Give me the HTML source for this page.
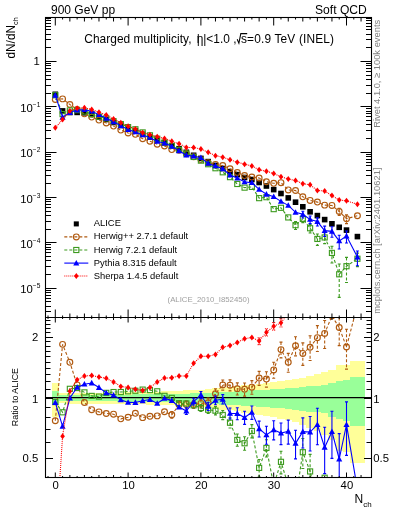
<!DOCTYPE html>
<html><head><meta charset="utf-8"><style>
html,body{margin:0;padding:0;background:#fff;width:393px;height:512px;overflow:hidden;position:relative}
svg text{font-family:"Liberation Sans",sans-serif}
svg{will-change:transform}
</style></head><body>
<svg width="393" height="512" viewBox="0 0 393 512" style="position:absolute;left:0;top:0">
<defs><clipPath id="ct"><rect x="45.5" y="17.5" width="326.0" height="300.0"/></clipPath>
<clipPath id="cr"><rect x="45.5" y="317.5" width="326.0" height="160.0"/></clipPath></defs>
<g clip-path="url(#cr)" shape-rendering="crispEdges"><g fill="#ffff99"><rect x="51.66" y="382.69" width="7.28" height="33.85"/><rect x="58.94" y="392.87" width="7.28" height="10.57"/><rect x="66.22" y="392.83" width="7.28" height="10.67"/><rect x="73.50" y="392.78" width="7.28" height="10.77"/><rect x="80.78" y="392.73" width="7.28" height="10.87"/><rect x="88.06" y="392.69" width="7.28" height="10.96"/><rect x="95.34" y="392.64" width="7.28" height="11.06"/><rect x="102.62" y="392.60" width="7.28" height="11.16"/><rect x="109.90" y="392.55" width="7.28" height="11.26"/><rect x="117.18" y="392.50" width="7.28" height="11.36"/><rect x="124.46" y="392.46" width="7.28" height="11.45"/><rect x="131.74" y="392.25" width="7.28" height="11.90"/><rect x="139.02" y="392.05" width="7.28" height="12.34"/><rect x="146.30" y="391.84" width="7.28" height="12.78"/><rect x="153.58" y="391.64" width="7.28" height="13.22"/><rect x="160.86" y="391.43" width="7.28" height="13.67"/><rect x="168.14" y="391.23" width="7.28" height="14.11"/><rect x="175.42" y="390.82" width="7.28" height="14.99"/><rect x="182.70" y="390.42" width="7.28" height="15.88"/><rect x="189.98" y="390.01" width="7.28" height="16.77"/><rect x="197.26" y="389.61" width="7.28" height="17.66"/><rect x="204.54" y="389.02" width="7.28" height="18.99"/><rect x="211.82" y="388.42" width="7.28" height="20.33"/><rect x="219.10" y="387.83" width="7.28" height="21.67"/><rect x="226.38" y="387.25" width="7.28" height="23.01"/><rect x="233.66" y="386.36" width="7.28" height="25.06"/><rect x="240.94" y="385.48" width="7.28" height="27.11"/><rect x="248.22" y="384.62" width="7.28" height="29.17"/><rect x="255.50" y="383.76" width="7.28" height="31.25"/><rect x="262.78" y="382.91" width="7.28" height="33.33"/><rect x="270.06" y="382.06" width="7.28" height="35.41"/><rect x="277.34" y="381.23" width="7.28" height="37.51"/><rect x="284.62" y="380.12" width="7.28" height="40.36"/><rect x="291.90" y="379.02" width="7.28" height="43.22"/><rect x="299.18" y="377.62" width="7.28" height="46.94"/><rect x="306.46" y="375.80" width="7.28" height="51.98"/><rect x="313.74" y="374.00" width="7.28" height="57.10"/><rect x="321.02" y="372.25" width="7.28" height="62.31"/><rect x="328.30" y="369.92" width="7.28" height="69.58"/><rect x="335.58" y="365.31" width="7.28" height="85.30"/><rect x="342.86" y="364.70" width="7.28" height="87.51"/><rect x="350.14" y="361.16" width="14.56" height="101.42"/></g><g fill="#99ff99"><rect x="51.66" y="391.23" width="7.28" height="14.11"/><rect x="58.94" y="394.97" width="7.28" height="6.16"/><rect x="66.22" y="394.93" width="7.28" height="6.26"/><rect x="73.50" y="394.88" width="7.28" height="6.36"/><rect x="80.78" y="394.83" width="7.28" height="6.46"/><rect x="88.06" y="394.78" width="7.28" height="6.55"/><rect x="95.34" y="394.74" width="7.28" height="6.65"/><rect x="102.62" y="394.69" width="7.28" height="6.75"/><rect x="109.90" y="394.64" width="7.28" height="6.85"/><rect x="117.18" y="394.60" width="7.28" height="6.94"/><rect x="124.46" y="394.55" width="7.28" height="7.04"/><rect x="131.74" y="394.48" width="7.28" height="7.19"/><rect x="139.02" y="394.41" width="7.28" height="7.34"/><rect x="146.30" y="394.34" width="7.28" height="7.48"/><rect x="153.58" y="394.27" width="7.28" height="7.63"/><rect x="160.86" y="394.20" width="7.28" height="7.78"/><rect x="168.14" y="394.13" width="7.28" height="7.92"/><rect x="175.42" y="393.81" width="7.28" height="8.59"/><rect x="182.70" y="393.50" width="7.28" height="9.25"/><rect x="189.98" y="393.18" width="7.28" height="9.91"/><rect x="197.26" y="392.87" width="7.28" height="10.57"/><rect x="204.54" y="392.56" width="7.28" height="11.23"/><rect x="211.82" y="392.25" width="7.28" height="11.90"/><rect x="219.10" y="391.94" width="7.28" height="12.56"/><rect x="226.38" y="391.64" width="7.28" height="13.22"/><rect x="233.66" y="391.23" width="7.28" height="14.11"/><rect x="240.94" y="390.82" width="7.28" height="14.99"/><rect x="248.22" y="390.42" width="7.28" height="15.88"/><rect x="255.50" y="390.01" width="7.28" height="16.77"/><rect x="262.78" y="389.61" width="7.28" height="17.66"/><rect x="270.06" y="389.21" width="7.28" height="18.55"/><rect x="277.34" y="388.82" width="7.28" height="19.44"/><rect x="284.62" y="388.21" width="7.28" height="20.81"/><rect x="291.90" y="387.61" width="7.28" height="22.18"/><rect x="299.18" y="386.97" width="7.28" height="23.64"/><rect x="306.46" y="386.29" width="7.28" height="25.22"/><rect x="313.74" y="385.61" width="7.28" height="26.81"/><rect x="321.02" y="384.94" width="7.28" height="28.40"/><rect x="328.30" y="382.69" width="7.28" height="33.85"/><rect x="335.58" y="381.23" width="7.28" height="37.51"/><rect x="342.86" y="379.61" width="7.28" height="41.68"/><rect x="350.14" y="376.97" width="14.56" height="48.72"/></g></g>
<line x1="45.5" y1="397.6" x2="371.5" y2="397.6" stroke="#000" stroke-width="1.1"/>
<g clip-path="url(#ct)"><rect x="52.50" y="91.50" width="5.60" height="5.60" fill="#000"/><rect x="59.78" y="108.10" width="5.60" height="5.60" fill="#000"/><rect x="67.06" y="109.70" width="5.60" height="5.60" fill="#000"/><rect x="74.34" y="109.60" width="5.60" height="5.60" fill="#000"/><rect x="81.62" y="110.00" width="5.60" height="5.60" fill="#000"/><rect x="88.90" y="111.70" width="5.60" height="5.60" fill="#000"/><rect x="96.18" y="114.20" width="5.60" height="5.60" fill="#000"/><rect x="103.46" y="116.70" width="5.60" height="5.60" fill="#000"/><rect x="110.74" y="119.70" width="5.60" height="5.60" fill="#000"/><rect x="118.02" y="122.60" width="5.60" height="5.60" fill="#000"/><rect x="125.30" y="125.80" width="5.60" height="5.60" fill="#000"/><rect x="132.58" y="128.10" width="5.60" height="5.60" fill="#000"/><rect x="139.86" y="131.50" width="5.60" height="5.60" fill="#000"/><rect x="147.14" y="134.30" width="5.60" height="5.60" fill="#000"/><rect x="154.42" y="137.40" width="5.60" height="5.60" fill="#000"/><rect x="161.70" y="140.10" width="5.60" height="5.60" fill="#000"/><rect x="168.98" y="143.00" width="5.60" height="5.60" fill="#000"/><rect x="176.26" y="145.90" width="5.60" height="5.60" fill="#000"/><rect x="183.54" y="149.50" width="5.60" height="5.60" fill="#000"/><rect x="190.82" y="152.50" width="5.60" height="5.60" fill="#000"/><rect x="198.10" y="155.60" width="5.60" height="5.60" fill="#000"/><rect x="205.38" y="158.80" width="5.60" height="5.60" fill="#000"/><rect x="212.66" y="162.60" width="5.60" height="5.60" fill="#000"/><rect x="219.94" y="165.70" width="5.60" height="5.60" fill="#000"/><rect x="227.22" y="168.80" width="5.60" height="5.60" fill="#000"/><rect x="234.50" y="171.80" width="5.60" height="5.60" fill="#000"/><rect x="241.78" y="174.70" width="5.60" height="5.60" fill="#000"/><rect x="249.06" y="176.70" width="5.60" height="5.60" fill="#000"/><rect x="256.34" y="179.70" width="5.60" height="5.60" fill="#000"/><rect x="263.62" y="183.20" width="5.60" height="5.60" fill="#000"/><rect x="270.90" y="186.80" width="5.60" height="5.60" fill="#000"/><rect x="278.18" y="190.70" width="5.60" height="5.60" fill="#000"/><rect x="285.46" y="195.10" width="5.60" height="5.60" fill="#000"/><rect x="292.74" y="199.40" width="5.60" height="5.60" fill="#000"/><rect x="300.02" y="204.00" width="5.60" height="5.60" fill="#000"/><rect x="307.30" y="209.00" width="5.60" height="5.60" fill="#000"/><rect x="314.58" y="212.80" width="5.60" height="5.60" fill="#000"/><rect x="321.86" y="216.80" width="5.60" height="5.60" fill="#000"/><rect x="329.14" y="221.00" width="5.60" height="5.60" fill="#000"/><rect x="336.42" y="224.50" width="5.60" height="5.60" fill="#000"/><rect x="343.70" y="227.30" width="5.60" height="5.60" fill="#000"/><rect x="354.62" y="233.80" width="5.60" height="5.60" fill="#000"/><path d="M55.30 99.40 L62.58 98.89 L69.86 104.51 L77.14 109.48 L84.42 113.81 L91.70 117.11 L98.98 120.11 L106.26 122.96 L113.54 126.12 L120.82 130.07 L128.10 132.92 L135.38 134.33 L142.66 138.69 L149.94 141.20 L157.22 144.20 L164.50 145.99 L171.78 149.56 L179.06 150.21 L186.34 153.73 L193.62 156.73 L200.90 159.62 L208.18 162.65 L215.46 164.44 L222.74 165.58 L230.02 168.73 L237.30 172.53 L244.58 175.55 L251.86 177.08 L259.14 178.04 L266.42 181.76 L273.70 183.31 L280.98 182.67 L288.26 189.91 L295.54 190.51 L302.82 196.82 L310.10 200.44 L317.38 202.09 L324.66 205.14 L331.94 205.44 L339.22 211.53 L346.50 218.68 L357.42 215.77" fill="none" stroke="#b05a10" stroke-width="1.1" stroke-dasharray="3,2"/><path d="M339.22 208.18V215.57M337.72 208.18H340.72M337.72 215.57H340.72M346.50 214.72V223.63M345.00 214.72H348.00M345.00 223.63H348.00" fill="none" stroke="#b05a10" stroke-width="1.1" stroke-dasharray="3,2"/><circle cx="55.30" cy="99.40" r="2.90" fill="none" stroke="#b05a10" stroke-width="1.15"/><circle cx="62.58" cy="98.89" r="2.90" fill="none" stroke="#b05a10" stroke-width="1.15"/><circle cx="69.86" cy="104.51" r="2.90" fill="none" stroke="#b05a10" stroke-width="1.15"/><circle cx="77.14" cy="109.48" r="2.90" fill="none" stroke="#b05a10" stroke-width="1.15"/><circle cx="84.42" cy="113.81" r="2.90" fill="none" stroke="#b05a10" stroke-width="1.15"/><circle cx="91.70" cy="117.11" r="2.90" fill="none" stroke="#b05a10" stroke-width="1.15"/><circle cx="98.98" cy="120.11" r="2.90" fill="none" stroke="#b05a10" stroke-width="1.15"/><circle cx="106.26" cy="122.96" r="2.90" fill="none" stroke="#b05a10" stroke-width="1.15"/><circle cx="113.54" cy="126.12" r="2.90" fill="none" stroke="#b05a10" stroke-width="1.15"/><circle cx="120.82" cy="130.07" r="2.90" fill="none" stroke="#b05a10" stroke-width="1.15"/><circle cx="128.10" cy="132.92" r="2.90" fill="none" stroke="#b05a10" stroke-width="1.15"/><circle cx="135.38" cy="134.33" r="2.90" fill="none" stroke="#b05a10" stroke-width="1.15"/><circle cx="142.66" cy="138.69" r="2.90" fill="none" stroke="#b05a10" stroke-width="1.15"/><circle cx="149.94" cy="141.20" r="2.90" fill="none" stroke="#b05a10" stroke-width="1.15"/><circle cx="157.22" cy="144.20" r="2.90" fill="none" stroke="#b05a10" stroke-width="1.15"/><circle cx="164.50" cy="145.99" r="2.90" fill="none" stroke="#b05a10" stroke-width="1.15"/><circle cx="171.78" cy="149.56" r="2.90" fill="none" stroke="#b05a10" stroke-width="1.15"/><circle cx="179.06" cy="150.21" r="2.90" fill="none" stroke="#b05a10" stroke-width="1.15"/><circle cx="186.34" cy="153.73" r="2.90" fill="none" stroke="#b05a10" stroke-width="1.15"/><circle cx="193.62" cy="156.73" r="2.90" fill="none" stroke="#b05a10" stroke-width="1.15"/><circle cx="200.90" cy="159.62" r="2.90" fill="none" stroke="#b05a10" stroke-width="1.15"/><circle cx="208.18" cy="162.65" r="2.90" fill="none" stroke="#b05a10" stroke-width="1.15"/><circle cx="215.46" cy="164.44" r="2.90" fill="none" stroke="#b05a10" stroke-width="1.15"/><circle cx="222.74" cy="165.58" r="2.90" fill="none" stroke="#b05a10" stroke-width="1.15"/><circle cx="230.02" cy="168.73" r="2.90" fill="none" stroke="#b05a10" stroke-width="1.15"/><circle cx="237.30" cy="172.53" r="2.90" fill="none" stroke="#b05a10" stroke-width="1.15"/><circle cx="244.58" cy="175.55" r="2.90" fill="none" stroke="#b05a10" stroke-width="1.15"/><circle cx="251.86" cy="177.08" r="2.90" fill="none" stroke="#b05a10" stroke-width="1.15"/><circle cx="259.14" cy="178.04" r="2.90" fill="none" stroke="#b05a10" stroke-width="1.15"/><circle cx="266.42" cy="181.76" r="2.90" fill="none" stroke="#b05a10" stroke-width="1.15"/><circle cx="273.70" cy="183.31" r="2.90" fill="none" stroke="#b05a10" stroke-width="1.15"/><circle cx="280.98" cy="182.67" r="2.90" fill="none" stroke="#b05a10" stroke-width="1.15"/><circle cx="288.26" cy="189.91" r="2.90" fill="none" stroke="#b05a10" stroke-width="1.15"/><circle cx="295.54" cy="190.51" r="2.90" fill="none" stroke="#b05a10" stroke-width="1.15"/><circle cx="302.82" cy="196.82" r="2.90" fill="none" stroke="#b05a10" stroke-width="1.15"/><circle cx="310.10" cy="200.44" r="2.90" fill="none" stroke="#b05a10" stroke-width="1.15"/><circle cx="317.38" cy="202.09" r="2.90" fill="none" stroke="#b05a10" stroke-width="1.15"/><circle cx="324.66" cy="205.14" r="2.90" fill="none" stroke="#b05a10" stroke-width="1.15"/><circle cx="331.94" cy="205.44" r="2.90" fill="none" stroke="#b05a10" stroke-width="1.15"/><circle cx="339.22" cy="211.53" r="2.90" fill="none" stroke="#b05a10" stroke-width="1.15"/><circle cx="346.50" cy="218.68" r="2.90" fill="none" stroke="#b05a10" stroke-width="1.15"/><circle cx="357.42" cy="215.77" r="2.90" fill="none" stroke="#b05a10" stroke-width="1.15"/><path d="M55.30 95.21 L62.58 114.10 L69.86 110.44 L77.14 110.17 L84.42 111.54 L91.70 114.03 L98.98 116.69 L106.26 118.35 L113.54 121.17 L120.82 124.07 L128.10 127.10 L135.38 129.28 L142.66 132.42 L149.94 135.33 L157.22 138.70 L164.50 142.41 L171.78 145.78 L179.06 149.86 L186.34 153.52 L193.62 156.94 L200.90 160.63 L208.18 164.23 L215.46 168.23 L222.74 172.29 L230.02 177.14 L237.30 183.98 L244.58 187.63 L251.86 186.89 L259.14 198.14 L266.42 197.18 L273.70 209.13 L280.98 207.79 L288.26 217.43 L295.54 225.20 L302.82 218.94 L310.10 228.24 L317.38 238.92 L324.66 237.45 L331.94 252.92 L339.22 274.29 L346.50 266.19 L357.42 258.74" fill="none" stroke="#3c9a1e" stroke-width="1.1" stroke-dasharray="3,2"/><path d="M295.54 221.64V229.56M294.04 221.64H297.04M294.04 229.56H297.04M302.82 215.86V222.59M301.32 215.86H304.32M301.32 222.59H304.32M310.10 224.42V232.99M308.60 224.42H311.60M308.60 232.99H311.60M317.38 234.05V245.42M315.88 234.05H318.88M315.88 245.42H318.88M324.66 232.73V243.67M323.16 232.73H326.16M323.16 243.67H326.16M331.94 246.28V263.00M330.44 246.28H333.44M330.44 263.00H333.44M339.22 263.96V297.33M337.72 263.96H340.72M337.72 297.33H340.72M346.50 257.42V282.43M345.00 257.42H348.00M345.00 282.43H348.00M357.42 253.14V266.58M355.92 253.14H358.92M355.92 266.58H358.92" fill="none" stroke="#3c9a1e" stroke-width="1.1" stroke-dasharray="3,2"/><rect x="52.75" y="92.66" width="5.10" height="5.10" fill="none" stroke="#3c9a1e" stroke-width="1.1"/><rect x="60.03" y="111.55" width="5.10" height="5.10" fill="none" stroke="#3c9a1e" stroke-width="1.1"/><rect x="67.31" y="107.89" width="5.10" height="5.10" fill="none" stroke="#3c9a1e" stroke-width="1.1"/><rect x="74.59" y="107.62" width="5.10" height="5.10" fill="none" stroke="#3c9a1e" stroke-width="1.1"/><rect x="81.87" y="108.99" width="5.10" height="5.10" fill="none" stroke="#3c9a1e" stroke-width="1.1"/><rect x="89.15" y="111.48" width="5.10" height="5.10" fill="none" stroke="#3c9a1e" stroke-width="1.1"/><rect x="96.43" y="114.14" width="5.10" height="5.10" fill="none" stroke="#3c9a1e" stroke-width="1.1"/><rect x="103.71" y="115.80" width="5.10" height="5.10" fill="none" stroke="#3c9a1e" stroke-width="1.1"/><rect x="110.99" y="118.62" width="5.10" height="5.10" fill="none" stroke="#3c9a1e" stroke-width="1.1"/><rect x="118.27" y="121.52" width="5.10" height="5.10" fill="none" stroke="#3c9a1e" stroke-width="1.1"/><rect x="125.55" y="124.55" width="5.10" height="5.10" fill="none" stroke="#3c9a1e" stroke-width="1.1"/><rect x="132.83" y="126.73" width="5.10" height="5.10" fill="none" stroke="#3c9a1e" stroke-width="1.1"/><rect x="140.11" y="129.87" width="5.10" height="5.10" fill="none" stroke="#3c9a1e" stroke-width="1.1"/><rect x="147.39" y="132.78" width="5.10" height="5.10" fill="none" stroke="#3c9a1e" stroke-width="1.1"/><rect x="154.67" y="136.15" width="5.10" height="5.10" fill="none" stroke="#3c9a1e" stroke-width="1.1"/><rect x="161.95" y="139.86" width="5.10" height="5.10" fill="none" stroke="#3c9a1e" stroke-width="1.1"/><rect x="169.23" y="143.23" width="5.10" height="5.10" fill="none" stroke="#3c9a1e" stroke-width="1.1"/><rect x="176.51" y="147.31" width="5.10" height="5.10" fill="none" stroke="#3c9a1e" stroke-width="1.1"/><rect x="183.79" y="150.97" width="5.10" height="5.10" fill="none" stroke="#3c9a1e" stroke-width="1.1"/><rect x="191.07" y="154.39" width="5.10" height="5.10" fill="none" stroke="#3c9a1e" stroke-width="1.1"/><rect x="198.35" y="158.08" width="5.10" height="5.10" fill="none" stroke="#3c9a1e" stroke-width="1.1"/><rect x="205.63" y="161.68" width="5.10" height="5.10" fill="none" stroke="#3c9a1e" stroke-width="1.1"/><rect x="212.91" y="165.68" width="5.10" height="5.10" fill="none" stroke="#3c9a1e" stroke-width="1.1"/><rect x="220.19" y="169.74" width="5.10" height="5.10" fill="none" stroke="#3c9a1e" stroke-width="1.1"/><rect x="227.47" y="174.59" width="5.10" height="5.10" fill="none" stroke="#3c9a1e" stroke-width="1.1"/><rect x="234.75" y="181.43" width="5.10" height="5.10" fill="none" stroke="#3c9a1e" stroke-width="1.1"/><rect x="242.03" y="185.08" width="5.10" height="5.10" fill="none" stroke="#3c9a1e" stroke-width="1.1"/><rect x="249.31" y="184.34" width="5.10" height="5.10" fill="none" stroke="#3c9a1e" stroke-width="1.1"/><rect x="256.59" y="195.59" width="5.10" height="5.10" fill="none" stroke="#3c9a1e" stroke-width="1.1"/><rect x="263.87" y="194.63" width="5.10" height="5.10" fill="none" stroke="#3c9a1e" stroke-width="1.1"/><rect x="271.15" y="206.58" width="5.10" height="5.10" fill="none" stroke="#3c9a1e" stroke-width="1.1"/><rect x="278.43" y="205.24" width="5.10" height="5.10" fill="none" stroke="#3c9a1e" stroke-width="1.1"/><rect x="285.71" y="214.88" width="5.10" height="5.10" fill="none" stroke="#3c9a1e" stroke-width="1.1"/><rect x="292.99" y="222.65" width="5.10" height="5.10" fill="none" stroke="#3c9a1e" stroke-width="1.1"/><rect x="300.27" y="216.39" width="5.10" height="5.10" fill="none" stroke="#3c9a1e" stroke-width="1.1"/><rect x="307.55" y="225.69" width="5.10" height="5.10" fill="none" stroke="#3c9a1e" stroke-width="1.1"/><rect x="314.83" y="236.37" width="5.10" height="5.10" fill="none" stroke="#3c9a1e" stroke-width="1.1"/><rect x="322.11" y="234.90" width="5.10" height="5.10" fill="none" stroke="#3c9a1e" stroke-width="1.1"/><rect x="329.39" y="250.37" width="5.10" height="5.10" fill="none" stroke="#3c9a1e" stroke-width="1.1"/><rect x="336.67" y="271.74" width="5.10" height="5.10" fill="none" stroke="#3c9a1e" stroke-width="1.1"/><rect x="343.95" y="263.64" width="5.10" height="5.10" fill="none" stroke="#3c9a1e" stroke-width="1.1"/><rect x="354.87" y="256.19" width="5.10" height="5.10" fill="none" stroke="#3c9a1e" stroke-width="1.1"/><path d="M55.30 95.31 L62.58 117.23 L69.86 112.50 L77.14 110.03 L84.42 109.71 L91.70 111.16 L98.98 114.65 L106.26 118.35 L113.54 121.86 L120.82 125.80 L128.10 129.59 L135.38 131.91 L142.66 134.92 L149.94 137.44 L157.22 141.42 L164.50 143.00 L171.78 146.36 L179.06 150.73 L186.34 155.22 L193.62 156.10 L200.90 157.72 L208.18 163.46 L215.46 165.90 L222.74 168.78 L230.02 175.03 L237.30 178.08 L244.58 181.87 L251.86 182.72 L259.14 189.38 L266.42 194.24 L273.70 196.71 L280.98 201.36 L288.26 205.35 L295.54 212.36 L302.82 214.34 L310.10 219.42 L317.38 221.56 L324.66 230.67 L331.94 231.34 L339.22 240.95 L346.50 236.06 L357.42 257.05" fill="none" stroke="#0000ff" stroke-width="1.1"/><path d="M302.82 211.25V218.01M301.32 211.25H304.32M301.32 218.01H304.32M310.10 215.94V223.66M308.60 215.94H311.60M308.60 223.66H311.60M317.38 217.90V226.05M315.88 217.90H318.88M315.88 226.05H318.88M324.66 226.16V236.53M323.16 226.16H326.16M323.16 236.53H326.16M331.94 226.76V237.31M330.44 226.76H333.44M330.44 237.31H333.44M339.22 235.28V248.96M337.72 235.28H340.72M337.72 248.96H340.72M346.50 230.97V242.94M345.00 230.97H348.00M345.00 242.94H348.00M357.42 251.06V265.70M355.92 251.06H358.92M355.92 265.70H358.92" fill="none" stroke="#0000ff" stroke-width="1.1"/><path d="M55.30 92.11L58.34 97.71L52.26 97.71Z" fill="#0000ff"/><path d="M62.58 114.03L65.62 119.63L59.54 119.63Z" fill="#0000ff"/><path d="M69.86 109.30L72.90 114.90L66.82 114.90Z" fill="#0000ff"/><path d="M77.14 106.83L80.18 112.43L74.10 112.43Z" fill="#0000ff"/><path d="M84.42 106.51L87.46 112.11L81.38 112.11Z" fill="#0000ff"/><path d="M91.70 107.96L94.74 113.56L88.66 113.56Z" fill="#0000ff"/><path d="M98.98 111.45L102.02 117.05L95.94 117.05Z" fill="#0000ff"/><path d="M106.26 115.15L109.30 120.75L103.22 120.75Z" fill="#0000ff"/><path d="M113.54 118.66L116.58 124.26L110.50 124.26Z" fill="#0000ff"/><path d="M120.82 122.60L123.86 128.20L117.78 128.20Z" fill="#0000ff"/><path d="M128.10 126.39L131.14 131.99L125.06 131.99Z" fill="#0000ff"/><path d="M135.38 128.71L138.42 134.31L132.34 134.31Z" fill="#0000ff"/><path d="M142.66 131.72L145.70 137.32L139.62 137.32Z" fill="#0000ff"/><path d="M149.94 134.24L152.98 139.84L146.90 139.84Z" fill="#0000ff"/><path d="M157.22 138.22L160.26 143.82L154.18 143.82Z" fill="#0000ff"/><path d="M164.50 139.80L167.54 145.40L161.46 145.40Z" fill="#0000ff"/><path d="M171.78 143.16L174.82 148.76L168.74 148.76Z" fill="#0000ff"/><path d="M179.06 147.53L182.10 153.13L176.02 153.13Z" fill="#0000ff"/><path d="M186.34 152.02L189.38 157.62L183.30 157.62Z" fill="#0000ff"/><path d="M193.62 152.90L196.66 158.50L190.58 158.50Z" fill="#0000ff"/><path d="M200.90 154.52L203.94 160.12L197.86 160.12Z" fill="#0000ff"/><path d="M208.18 160.26L211.22 165.86L205.14 165.86Z" fill="#0000ff"/><path d="M215.46 162.70L218.50 168.30L212.42 168.30Z" fill="#0000ff"/><path d="M222.74 165.58L225.78 171.18L219.70 171.18Z" fill="#0000ff"/><path d="M230.02 171.83L233.06 177.43L226.98 177.43Z" fill="#0000ff"/><path d="M237.30 174.88L240.34 180.48L234.26 180.48Z" fill="#0000ff"/><path d="M244.58 178.67L247.62 184.27L241.54 184.27Z" fill="#0000ff"/><path d="M251.86 179.52L254.90 185.12L248.82 185.12Z" fill="#0000ff"/><path d="M259.14 186.18L262.18 191.78L256.10 191.78Z" fill="#0000ff"/><path d="M266.42 191.04L269.46 196.64L263.38 196.64Z" fill="#0000ff"/><path d="M273.70 193.51L276.74 199.11L270.66 199.11Z" fill="#0000ff"/><path d="M280.98 198.16L284.02 203.76L277.94 203.76Z" fill="#0000ff"/><path d="M288.26 202.15L291.30 207.75L285.22 207.75Z" fill="#0000ff"/><path d="M295.54 209.16L298.58 214.76L292.50 214.76Z" fill="#0000ff"/><path d="M302.82 211.14L305.86 216.74L299.78 216.74Z" fill="#0000ff"/><path d="M310.10 216.22L313.14 221.82L307.06 221.82Z" fill="#0000ff"/><path d="M317.38 218.36L320.42 223.96L314.34 223.96Z" fill="#0000ff"/><path d="M324.66 227.47L327.70 233.07L321.62 233.07Z" fill="#0000ff"/><path d="M331.94 228.14L334.98 233.74L328.90 233.74Z" fill="#0000ff"/><path d="M339.22 237.75L342.26 243.35L336.18 243.35Z" fill="#0000ff"/><path d="M346.50 232.86L349.54 238.46L343.46 238.46Z" fill="#0000ff"/><path d="M357.42 253.85L360.46 259.45L354.38 259.45Z" fill="#0000ff"/><path d="M55.30 127.86 L62.58 119.45 L69.86 110.98 L77.14 108.32 L84.42 107.86 L91.70 109.48 L98.98 112.29 L106.26 115.11 L113.54 118.91 L120.82 122.82 L128.10 126.25 L135.38 128.93 L142.66 132.64 L149.94 134.73 L157.22 136.64 L164.50 138.44 L171.78 141.30 L179.06 143.76 L186.34 147.39 L193.62 147.51 L200.90 149.08 L208.18 152.28 L215.46 155.66 L222.74 157.14 L230.02 159.86 L237.30 162.17 L244.58 164.25 L251.86 165.95 L259.14 169.76 L266.42 171.29 L273.70 173.54 L280.98 176.67 L288.26 179.01 L295.54 180.50 L302.82 183.71 L310.10 184.79 L317.38 190.48 L324.66 191.01 L331.94 195.58 L339.22 200.10 L346.50 200.83 L357.42 204.28" fill="none" stroke="#ff0000" stroke-width="1.1" stroke-dasharray="1,1"/><path d="M55.30 124.86L57.60 127.86L55.30 130.86L53.00 127.86Z" fill="#ff0000"/><path d="M62.58 116.45L64.88 119.45L62.58 122.45L60.28 119.45Z" fill="#ff0000"/><path d="M69.86 107.98L72.16 110.98L69.86 113.98L67.56 110.98Z" fill="#ff0000"/><path d="M77.14 105.32L79.44 108.32L77.14 111.32L74.84 108.32Z" fill="#ff0000"/><path d="M84.42 104.86L86.72 107.86L84.42 110.86L82.12 107.86Z" fill="#ff0000"/><path d="M91.70 106.48L94.00 109.48L91.70 112.48L89.40 109.48Z" fill="#ff0000"/><path d="M98.98 109.29L101.28 112.29L98.98 115.29L96.68 112.29Z" fill="#ff0000"/><path d="M106.26 112.11L108.56 115.11L106.26 118.11L103.96 115.11Z" fill="#ff0000"/><path d="M113.54 115.91L115.84 118.91L113.54 121.91L111.24 118.91Z" fill="#ff0000"/><path d="M120.82 119.82L123.12 122.82L120.82 125.82L118.52 122.82Z" fill="#ff0000"/><path d="M128.10 123.25L130.40 126.25L128.10 129.25L125.80 126.25Z" fill="#ff0000"/><path d="M135.38 125.93L137.68 128.93L135.38 131.93L133.08 128.93Z" fill="#ff0000"/><path d="M142.66 129.64L144.96 132.64L142.66 135.64L140.36 132.64Z" fill="#ff0000"/><path d="M149.94 131.73L152.24 134.73L149.94 137.73L147.64 134.73Z" fill="#ff0000"/><path d="M157.22 133.64L159.52 136.64L157.22 139.64L154.92 136.64Z" fill="#ff0000"/><path d="M164.50 135.44L166.80 138.44L164.50 141.44L162.20 138.44Z" fill="#ff0000"/><path d="M171.78 138.30L174.08 141.30L171.78 144.30L169.48 141.30Z" fill="#ff0000"/><path d="M179.06 140.76L181.36 143.76L179.06 146.76L176.76 143.76Z" fill="#ff0000"/><path d="M186.34 144.39L188.64 147.39L186.34 150.39L184.04 147.39Z" fill="#ff0000"/><path d="M193.62 144.51L195.92 147.51L193.62 150.51L191.32 147.51Z" fill="#ff0000"/><path d="M200.90 146.08L203.20 149.08L200.90 152.08L198.60 149.08Z" fill="#ff0000"/><path d="M208.18 149.28L210.48 152.28L208.18 155.28L205.88 152.28Z" fill="#ff0000"/><path d="M215.46 152.66L217.76 155.66L215.46 158.66L213.16 155.66Z" fill="#ff0000"/><path d="M222.74 154.14L225.04 157.14L222.74 160.14L220.44 157.14Z" fill="#ff0000"/><path d="M230.02 156.86L232.32 159.86L230.02 162.86L227.72 159.86Z" fill="#ff0000"/><path d="M237.30 159.17L239.60 162.17L237.30 165.17L235.00 162.17Z" fill="#ff0000"/><path d="M244.58 161.25L246.88 164.25L244.58 167.25L242.28 164.25Z" fill="#ff0000"/><path d="M251.86 162.95L254.16 165.95L251.86 168.95L249.56 165.95Z" fill="#ff0000"/><path d="M259.14 166.76L261.44 169.76L259.14 172.76L256.84 169.76Z" fill="#ff0000"/><path d="M266.42 168.29L268.72 171.29L266.42 174.29L264.12 171.29Z" fill="#ff0000"/><path d="M273.70 170.54L276.00 173.54L273.70 176.54L271.40 173.54Z" fill="#ff0000"/><path d="M280.98 173.67L283.28 176.67L280.98 179.67L278.68 176.67Z" fill="#ff0000"/><path d="M288.26 176.01L290.56 179.01L288.26 182.01L285.96 179.01Z" fill="#ff0000"/><path d="M295.54 177.50L297.84 180.50L295.54 183.50L293.24 180.50Z" fill="#ff0000"/><path d="M302.82 180.71L305.12 183.71L302.82 186.71L300.52 183.71Z" fill="#ff0000"/><path d="M310.10 181.79L312.40 184.79L310.10 187.79L307.80 184.79Z" fill="#ff0000"/><path d="M317.38 187.48L319.68 190.48L317.38 193.48L315.08 190.48Z" fill="#ff0000"/><path d="M324.66 188.01L326.96 191.01L324.66 194.01L322.36 191.01Z" fill="#ff0000"/><path d="M331.94 192.58L334.24 195.58L331.94 198.58L329.64 195.58Z" fill="#ff0000"/><path d="M339.22 197.10L341.52 200.10L339.22 203.10L336.92 200.10Z" fill="#ff0000"/><path d="M346.50 197.83L348.80 200.83L346.50 203.83L344.20 200.83Z" fill="#ff0000"/><path d="M357.42 201.28L359.72 204.28L357.42 207.28L355.12 204.28Z" fill="#ff0000"/></g>
<g clip-path="url(#cr)"><path d="M55.30 420.77 L62.58 344.35 L69.86 362.32 L77.14 384.94 L84.42 402.51 L91.70 409.65 L98.98 411.89 L106.26 413.45 L113.54 414.18 L120.82 418.85 L128.10 417.30 L135.38 413.34 L142.66 417.63 L149.94 416.32 L157.22 415.89 L164.50 411.78 L171.78 414.82 L179.06 404.76 L186.34 404.39 L193.62 404.39 L200.90 403.44 L208.18 402.70 L215.46 393.71 L222.74 384.94 L230.02 385.17 L237.30 388.74 L244.58 389.29 L251.86 387.17 L259.14 378.08 L266.42 379.07 L273.70 369.92 L280.98 349.62 L288.26 362.32 L295.54 345.79 L302.82 353.41 L310.10 347.26 L317.38 337.63 L324.66 333.39 L331.94 315.98 L339.22 327.55 L346.50 346.97 L357.42 304.93" fill="none" stroke="#b05a10" stroke-width="1.1" stroke-dasharray="3,2"/><path d="M171.78 411.50V418.27M170.28 411.50H173.28M170.28 418.27H173.28M179.06 401.39V408.27M177.56 401.39H180.56M177.56 408.27H180.56M186.34 400.70V408.23M184.84 400.70H187.84M184.84 408.23H187.84M193.62 400.42V408.54M192.12 400.42H195.12M192.12 408.54H195.12M200.90 399.18V407.92M199.40 399.18H202.40M199.40 407.92H202.40M208.18 398.10V407.55M206.68 398.10H209.68M206.68 407.55H209.68M215.46 388.91V398.79M213.96 388.91H216.96M213.96 398.79H216.96M222.74 380.00V390.17M221.24 380.00H224.24M221.24 390.17H224.24M230.02 379.83V390.85M228.52 379.83H231.52M228.52 390.85H231.52M237.30 382.88V395.02M235.80 382.88H238.80M235.80 395.02H238.80M244.58 382.98V396.09M243.08 382.98H246.08M243.08 396.09H246.08M251.86 380.62V394.25M250.36 380.62H253.36M250.36 394.25H253.36M259.14 371.38V385.35M257.64 371.38H260.64M257.64 385.35H260.64M266.42 371.73V387.09M264.92 371.73H267.92M264.92 387.09H267.92M273.70 362.29V378.27M272.20 362.29H275.20M272.20 378.27H275.20M280.98 342.11V357.83M279.48 342.11H282.48M279.48 357.83H282.48M288.26 353.37V372.29M286.76 353.37H289.76M286.76 372.29H289.76M295.54 336.71V355.92M294.04 336.71H297.04M294.04 355.92H297.04M302.82 342.84V365.42M301.32 342.84H304.32M301.32 365.42H304.32M310.10 335.74V360.52M308.60 335.74H311.60M308.60 360.52H311.60M317.38 325.65V351.50M315.88 325.65H318.88M315.88 351.50H318.88M324.66 320.51V348.48M323.16 320.51H326.16M323.16 348.48H326.16M339.22 312.59V345.59M337.72 312.59H340.72M337.72 345.59H340.72M346.50 329.31V369.08M345.00 329.31H348.00M345.00 369.08H348.00" fill="none" stroke="#b05a10" stroke-width="1.1" stroke-dasharray="3,2"/><circle cx="55.30" cy="420.77" r="2.90" fill="none" stroke="#b05a10" stroke-width="1.15"/><circle cx="62.58" cy="344.35" r="2.90" fill="none" stroke="#b05a10" stroke-width="1.15"/><circle cx="69.86" cy="362.32" r="2.90" fill="none" stroke="#b05a10" stroke-width="1.15"/><circle cx="77.14" cy="384.94" r="2.90" fill="none" stroke="#b05a10" stroke-width="1.15"/><circle cx="84.42" cy="402.51" r="2.90" fill="none" stroke="#b05a10" stroke-width="1.15"/><circle cx="91.70" cy="409.65" r="2.90" fill="none" stroke="#b05a10" stroke-width="1.15"/><circle cx="98.98" cy="411.89" r="2.90" fill="none" stroke="#b05a10" stroke-width="1.15"/><circle cx="106.26" cy="413.45" r="2.90" fill="none" stroke="#b05a10" stroke-width="1.15"/><circle cx="113.54" cy="414.18" r="2.90" fill="none" stroke="#b05a10" stroke-width="1.15"/><circle cx="120.82" cy="418.85" r="2.90" fill="none" stroke="#b05a10" stroke-width="1.15"/><circle cx="128.10" cy="417.30" r="2.90" fill="none" stroke="#b05a10" stroke-width="1.15"/><circle cx="135.38" cy="413.34" r="2.90" fill="none" stroke="#b05a10" stroke-width="1.15"/><circle cx="142.66" cy="417.63" r="2.90" fill="none" stroke="#b05a10" stroke-width="1.15"/><circle cx="149.94" cy="416.32" r="2.90" fill="none" stroke="#b05a10" stroke-width="1.15"/><circle cx="157.22" cy="415.89" r="2.90" fill="none" stroke="#b05a10" stroke-width="1.15"/><circle cx="164.50" cy="411.78" r="2.90" fill="none" stroke="#b05a10" stroke-width="1.15"/><circle cx="171.78" cy="414.82" r="2.90" fill="none" stroke="#b05a10" stroke-width="1.15"/><circle cx="179.06" cy="404.76" r="2.90" fill="none" stroke="#b05a10" stroke-width="1.15"/><circle cx="186.34" cy="404.39" r="2.90" fill="none" stroke="#b05a10" stroke-width="1.15"/><circle cx="193.62" cy="404.39" r="2.90" fill="none" stroke="#b05a10" stroke-width="1.15"/><circle cx="200.90" cy="403.44" r="2.90" fill="none" stroke="#b05a10" stroke-width="1.15"/><circle cx="208.18" cy="402.70" r="2.90" fill="none" stroke="#b05a10" stroke-width="1.15"/><circle cx="215.46" cy="393.71" r="2.90" fill="none" stroke="#b05a10" stroke-width="1.15"/><circle cx="222.74" cy="384.94" r="2.90" fill="none" stroke="#b05a10" stroke-width="1.15"/><circle cx="230.02" cy="385.17" r="2.90" fill="none" stroke="#b05a10" stroke-width="1.15"/><circle cx="237.30" cy="388.74" r="2.90" fill="none" stroke="#b05a10" stroke-width="1.15"/><circle cx="244.58" cy="389.29" r="2.90" fill="none" stroke="#b05a10" stroke-width="1.15"/><circle cx="251.86" cy="387.17" r="2.90" fill="none" stroke="#b05a10" stroke-width="1.15"/><circle cx="259.14" cy="378.08" r="2.90" fill="none" stroke="#b05a10" stroke-width="1.15"/><circle cx="266.42" cy="379.07" r="2.90" fill="none" stroke="#b05a10" stroke-width="1.15"/><circle cx="273.70" cy="369.92" r="2.90" fill="none" stroke="#b05a10" stroke-width="1.15"/><circle cx="280.98" cy="349.62" r="2.90" fill="none" stroke="#b05a10" stroke-width="1.15"/><circle cx="288.26" cy="362.32" r="2.90" fill="none" stroke="#b05a10" stroke-width="1.15"/><circle cx="295.54" cy="345.79" r="2.90" fill="none" stroke="#b05a10" stroke-width="1.15"/><circle cx="302.82" cy="353.41" r="2.90" fill="none" stroke="#b05a10" stroke-width="1.15"/><circle cx="310.10" cy="347.26" r="2.90" fill="none" stroke="#b05a10" stroke-width="1.15"/><circle cx="317.38" cy="337.63" r="2.90" fill="none" stroke="#b05a10" stroke-width="1.15"/><circle cx="324.66" cy="333.39" r="2.90" fill="none" stroke="#b05a10" stroke-width="1.15"/><circle cx="331.94" cy="315.98" r="2.90" fill="none" stroke="#b05a10" stroke-width="1.15"/><circle cx="339.22" cy="327.55" r="2.90" fill="none" stroke="#b05a10" stroke-width="1.15"/><circle cx="346.50" cy="346.97" r="2.90" fill="none" stroke="#b05a10" stroke-width="1.15"/><circle cx="357.42" cy="304.93" r="2.90" fill="none" stroke="#b05a10" stroke-width="1.15"/><path d="M55.30 402.05 L62.58 412.30 L69.86 388.82 L77.14 388.03 L84.42 392.38 L91.70 395.91 L98.98 396.60 L106.26 392.87 L113.54 392.05 L120.82 392.05 L128.10 391.31 L135.38 390.74 L142.66 389.61 L149.94 390.10 L157.22 391.31 L164.50 395.83 L171.78 397.91 L179.06 403.16 L186.34 403.44 L193.62 405.34 L200.90 407.96 L208.18 409.75 L215.46 410.66 L222.74 414.93 L230.02 422.73 L237.30 439.92 L244.58 443.24 L251.86 431.03 L259.14 467.87 L266.42 447.92 L273.70 485.24 L280.98 461.85 L288.26 485.24 L295.54 500.77 L302.82 452.22 L310.10 471.44 L317.38 502.19 L324.66 477.75 L331.94 528.08 L339.22 607.94 L346.50 559.25 L357.42 496.89" fill="none" stroke="#3c9a1e" stroke-width="1.1" stroke-dasharray="3,2"/><path d="M200.90 404.63V411.41M199.40 404.63H202.40M199.40 411.41H202.40M208.18 406.11V413.54M206.68 406.11H209.68M206.68 413.54H209.68M215.46 406.64V414.87M213.96 406.64H216.96M213.96 414.87H216.96M222.74 410.49V419.60M221.24 410.49H224.24M221.24 419.60H224.24M230.02 417.72V428.03M228.52 417.72H231.52M228.52 428.03H231.52M237.30 434.00V446.27M235.80 434.00H238.80M235.80 446.27H238.80M244.58 436.76V450.23M243.08 436.76H246.08M243.08 450.23H246.08M251.86 424.67V437.89M250.36 424.67H253.36M250.36 437.89H253.36M259.14 459.50V477.12M257.64 459.50H260.64M257.64 477.12H260.64M266.42 439.75V456.94M264.92 439.75H267.92M264.92 456.94H267.92M280.98 451.29V473.85M279.48 451.29H282.48M279.48 473.85H282.48M302.82 438.47V468.52M301.32 438.47H304.32M301.32 468.52H304.32M310.10 454.37V492.65M308.60 454.37H311.60M308.60 492.65H311.60" fill="none" stroke="#3c9a1e" stroke-width="1.1" stroke-dasharray="3,2"/><rect x="52.75" y="399.50" width="5.10" height="5.10" fill="none" stroke="#3c9a1e" stroke-width="1.1"/><rect x="60.03" y="409.75" width="5.10" height="5.10" fill="none" stroke="#3c9a1e" stroke-width="1.1"/><rect x="67.31" y="386.27" width="5.10" height="5.10" fill="none" stroke="#3c9a1e" stroke-width="1.1"/><rect x="74.59" y="385.48" width="5.10" height="5.10" fill="none" stroke="#3c9a1e" stroke-width="1.1"/><rect x="81.87" y="389.83" width="5.10" height="5.10" fill="none" stroke="#3c9a1e" stroke-width="1.1"/><rect x="89.15" y="393.36" width="5.10" height="5.10" fill="none" stroke="#3c9a1e" stroke-width="1.1"/><rect x="96.43" y="394.05" width="5.10" height="5.10" fill="none" stroke="#3c9a1e" stroke-width="1.1"/><rect x="103.71" y="390.32" width="5.10" height="5.10" fill="none" stroke="#3c9a1e" stroke-width="1.1"/><rect x="110.99" y="389.50" width="5.10" height="5.10" fill="none" stroke="#3c9a1e" stroke-width="1.1"/><rect x="118.27" y="389.50" width="5.10" height="5.10" fill="none" stroke="#3c9a1e" stroke-width="1.1"/><rect x="125.55" y="388.76" width="5.10" height="5.10" fill="none" stroke="#3c9a1e" stroke-width="1.1"/><rect x="132.83" y="388.19" width="5.10" height="5.10" fill="none" stroke="#3c9a1e" stroke-width="1.1"/><rect x="140.11" y="387.06" width="5.10" height="5.10" fill="none" stroke="#3c9a1e" stroke-width="1.1"/><rect x="147.39" y="387.55" width="5.10" height="5.10" fill="none" stroke="#3c9a1e" stroke-width="1.1"/><rect x="154.67" y="388.76" width="5.10" height="5.10" fill="none" stroke="#3c9a1e" stroke-width="1.1"/><rect x="161.95" y="393.28" width="5.10" height="5.10" fill="none" stroke="#3c9a1e" stroke-width="1.1"/><rect x="169.23" y="395.36" width="5.10" height="5.10" fill="none" stroke="#3c9a1e" stroke-width="1.1"/><rect x="176.51" y="400.61" width="5.10" height="5.10" fill="none" stroke="#3c9a1e" stroke-width="1.1"/><rect x="183.79" y="400.89" width="5.10" height="5.10" fill="none" stroke="#3c9a1e" stroke-width="1.1"/><rect x="191.07" y="402.79" width="5.10" height="5.10" fill="none" stroke="#3c9a1e" stroke-width="1.1"/><rect x="198.35" y="405.41" width="5.10" height="5.10" fill="none" stroke="#3c9a1e" stroke-width="1.1"/><rect x="205.63" y="407.20" width="5.10" height="5.10" fill="none" stroke="#3c9a1e" stroke-width="1.1"/><rect x="212.91" y="408.11" width="5.10" height="5.10" fill="none" stroke="#3c9a1e" stroke-width="1.1"/><rect x="220.19" y="412.38" width="5.10" height="5.10" fill="none" stroke="#3c9a1e" stroke-width="1.1"/><rect x="227.47" y="420.18" width="5.10" height="5.10" fill="none" stroke="#3c9a1e" stroke-width="1.1"/><rect x="234.75" y="437.37" width="5.10" height="5.10" fill="none" stroke="#3c9a1e" stroke-width="1.1"/><rect x="242.03" y="440.69" width="5.10" height="5.10" fill="none" stroke="#3c9a1e" stroke-width="1.1"/><rect x="249.31" y="428.48" width="5.10" height="5.10" fill="none" stroke="#3c9a1e" stroke-width="1.1"/><rect x="256.59" y="465.32" width="5.10" height="5.10" fill="none" stroke="#3c9a1e" stroke-width="1.1"/><rect x="263.87" y="445.37" width="5.10" height="5.10" fill="none" stroke="#3c9a1e" stroke-width="1.1"/><rect x="271.15" y="482.69" width="5.10" height="5.10" fill="none" stroke="#3c9a1e" stroke-width="1.1"/><rect x="278.43" y="459.30" width="5.10" height="5.10" fill="none" stroke="#3c9a1e" stroke-width="1.1"/><rect x="285.71" y="482.69" width="5.10" height="5.10" fill="none" stroke="#3c9a1e" stroke-width="1.1"/><rect x="292.99" y="498.22" width="5.10" height="5.10" fill="none" stroke="#3c9a1e" stroke-width="1.1"/><rect x="300.27" y="449.67" width="5.10" height="5.10" fill="none" stroke="#3c9a1e" stroke-width="1.1"/><rect x="307.55" y="468.89" width="5.10" height="5.10" fill="none" stroke="#3c9a1e" stroke-width="1.1"/><rect x="314.83" y="499.64" width="5.10" height="5.10" fill="none" stroke="#3c9a1e" stroke-width="1.1"/><rect x="322.11" y="475.20" width="5.10" height="5.10" fill="none" stroke="#3c9a1e" stroke-width="1.1"/><rect x="329.39" y="525.53" width="5.10" height="5.10" fill="none" stroke="#3c9a1e" stroke-width="1.1"/><rect x="336.67" y="605.39" width="5.10" height="5.10" fill="none" stroke="#3c9a1e" stroke-width="1.1"/><rect x="343.95" y="556.70" width="5.10" height="5.10" fill="none" stroke="#3c9a1e" stroke-width="1.1"/><rect x="354.87" y="494.34" width="5.10" height="5.10" fill="none" stroke="#3c9a1e" stroke-width="1.1"/><path d="M55.30 402.51 L62.58 426.30 L69.86 398.00 L77.14 387.40 L84.42 384.19 L91.70 383.06 L98.98 387.48 L106.26 392.87 L113.54 395.14 L120.82 399.78 L128.10 402.42 L135.38 402.51 L142.66 400.77 L149.94 399.51 L157.22 403.44 L164.50 398.44 L171.78 400.50 L179.06 407.08 L186.34 411.07 L193.62 401.59 L200.90 394.97 L208.18 406.30 L215.46 400.23 L222.74 399.24 L230.02 413.34 L237.30 413.55 L244.58 417.52 L251.86 412.40 L259.14 428.76 L266.42 434.83 L273.70 429.76 L280.98 433.11 L288.26 431.29 L295.54 443.39 L302.82 431.68 L310.10 432.06 L317.38 424.61 L324.66 447.46 L331.94 431.68 L339.22 458.99 L346.50 424.61 L357.42 489.37" fill="none" stroke="#0000ff" stroke-width="1.1"/><path d="M186.34 407.79V414.46M184.84 407.79H187.84M184.84 414.46H187.84M193.62 398.25V405.07M192.12 398.25H195.12M192.12 405.07H195.12M200.90 391.49V398.60M199.40 391.49H202.40M199.40 398.60H202.40M208.18 402.28V410.51M206.68 402.28H209.68M206.68 410.51H209.68M215.46 395.96V404.71M213.96 395.96H216.96M213.96 404.71H216.96M222.74 394.66V404.07M221.24 394.66H224.24M221.24 404.07H224.24M230.02 407.99V419.03M228.52 407.99H231.52M228.52 419.03H231.52M237.30 407.79V419.72M235.80 407.79H238.80M235.80 419.72H238.80M244.58 411.20V424.34M243.08 411.20H246.08M243.08 424.34H246.08M251.86 405.95V419.37M250.36 405.95H253.36M250.36 419.37H253.36M259.14 421.16V437.07M257.64 421.16H260.64M257.64 437.07H260.64M266.42 426.28V444.30M264.92 426.28H267.92M264.92 444.30H267.92M273.70 420.69V439.88M272.20 420.69H275.20M272.20 439.88H275.20M280.98 422.96V444.58M279.48 422.96H282.48M279.48 444.58H282.48M288.26 420.13V444.08M286.76 420.13H289.76M286.76 444.08H289.76M295.54 430.21V458.90M294.04 430.21H297.04M294.04 458.90H297.04M302.82 417.87V448.06M301.32 417.87H304.32M301.32 448.06H304.32M310.10 416.51V450.97M308.60 416.51H311.60M308.60 450.97H311.60M317.38 408.27V444.70M315.88 408.27H318.88M315.88 444.70H318.88M324.66 427.32V473.63M323.16 427.32H326.16M323.16 473.63H326.16M331.94 411.23V458.36M330.44 411.23H333.44M330.44 458.36H333.44M339.22 433.63V494.75M337.72 433.63H340.72M337.72 494.75H340.72M346.50 401.87V455.36M345.00 401.87H348.00M345.00 455.36H348.00" fill="none" stroke="#0000ff" stroke-width="1.1"/><path d="M55.30 399.31L58.34 404.91L52.26 404.91Z" fill="#0000ff"/><path d="M62.58 423.10L65.62 428.70L59.54 428.70Z" fill="#0000ff"/><path d="M69.86 394.80L72.90 400.40L66.82 400.40Z" fill="#0000ff"/><path d="M77.14 384.20L80.18 389.80L74.10 389.80Z" fill="#0000ff"/><path d="M84.42 380.99L87.46 386.59L81.38 386.59Z" fill="#0000ff"/><path d="M91.70 379.86L94.74 385.46L88.66 385.46Z" fill="#0000ff"/><path d="M98.98 384.28L102.02 389.88L95.94 389.88Z" fill="#0000ff"/><path d="M106.26 389.67L109.30 395.27L103.22 395.27Z" fill="#0000ff"/><path d="M113.54 391.94L116.58 397.54L110.50 397.54Z" fill="#0000ff"/><path d="M120.82 396.58L123.86 402.18L117.78 402.18Z" fill="#0000ff"/><path d="M128.10 399.22L131.14 404.82L125.06 404.82Z" fill="#0000ff"/><path d="M135.38 399.31L138.42 404.91L132.34 404.91Z" fill="#0000ff"/><path d="M142.66 397.57L145.70 403.17L139.62 403.17Z" fill="#0000ff"/><path d="M149.94 396.31L152.98 401.91L146.90 401.91Z" fill="#0000ff"/><path d="M157.22 400.24L160.26 405.84L154.18 405.84Z" fill="#0000ff"/><path d="M164.50 395.24L167.54 400.84L161.46 400.84Z" fill="#0000ff"/><path d="M171.78 397.30L174.82 402.90L168.74 402.90Z" fill="#0000ff"/><path d="M179.06 403.88L182.10 409.48L176.02 409.48Z" fill="#0000ff"/><path d="M186.34 407.87L189.38 413.47L183.30 413.47Z" fill="#0000ff"/><path d="M193.62 398.39L196.66 403.99L190.58 403.99Z" fill="#0000ff"/><path d="M200.90 391.77L203.94 397.37L197.86 397.37Z" fill="#0000ff"/><path d="M208.18 403.10L211.22 408.70L205.14 408.70Z" fill="#0000ff"/><path d="M215.46 397.03L218.50 402.63L212.42 402.63Z" fill="#0000ff"/><path d="M222.74 396.04L225.78 401.64L219.70 401.64Z" fill="#0000ff"/><path d="M230.02 410.14L233.06 415.74L226.98 415.74Z" fill="#0000ff"/><path d="M237.30 410.35L240.34 415.95L234.26 415.95Z" fill="#0000ff"/><path d="M244.58 414.32L247.62 419.92L241.54 419.92Z" fill="#0000ff"/><path d="M251.86 409.20L254.90 414.80L248.82 414.80Z" fill="#0000ff"/><path d="M259.14 425.56L262.18 431.16L256.10 431.16Z" fill="#0000ff"/><path d="M266.42 431.63L269.46 437.23L263.38 437.23Z" fill="#0000ff"/><path d="M273.70 426.56L276.74 432.16L270.66 432.16Z" fill="#0000ff"/><path d="M280.98 429.91L284.02 435.51L277.94 435.51Z" fill="#0000ff"/><path d="M288.26 428.09L291.30 433.69L285.22 433.69Z" fill="#0000ff"/><path d="M295.54 440.19L298.58 445.79L292.50 445.79Z" fill="#0000ff"/><path d="M302.82 428.48L305.86 434.08L299.78 434.08Z" fill="#0000ff"/><path d="M310.10 428.86L313.14 434.46L307.06 434.46Z" fill="#0000ff"/><path d="M317.38 421.41L320.42 427.01L314.34 427.01Z" fill="#0000ff"/><path d="M324.66 444.26L327.70 449.86L321.62 449.86Z" fill="#0000ff"/><path d="M331.94 428.48L334.98 434.08L328.90 434.08Z" fill="#0000ff"/><path d="M339.22 455.79L342.26 461.39L336.18 461.39Z" fill="#0000ff"/><path d="M346.50 421.41L349.54 427.01L343.46 427.01Z" fill="#0000ff"/><path d="M357.42 486.17L360.46 491.77L354.38 491.77Z" fill="#0000ff"/><path d="M55.30 547.91 L62.58 436.17 L69.86 391.23 L77.14 379.79 L84.42 375.94 L91.70 375.59 L98.98 376.97 L106.26 378.37 L113.54 381.96 L120.82 386.47 L128.10 387.48 L135.38 389.21 L142.66 390.58 L149.94 387.40 L157.22 382.10 L164.50 378.08 L171.78 377.87 L179.06 375.94 L186.34 376.07 L193.62 363.21 L200.90 356.37 L208.18 356.37 L215.46 354.47 L222.74 347.26 L230.02 345.55 L237.30 342.46 L244.58 338.79 L251.86 337.45 L259.14 341.06 L266.42 332.30 L273.70 326.26 L280.98 322.82 L288.26 313.59 L295.54 301.04 L302.82 294.84 L310.10 277.35 L317.38 285.78 L324.66 270.28 L331.94 271.94 L339.22 276.46 L346.50 267.24 L357.42 253.62" fill="none" stroke="#ff0000" stroke-width="1.1" stroke-dasharray="1,1"/><path d="M259.14 337.68V344.58M257.64 337.68H260.64M257.64 344.58H260.64M266.42 328.79V335.96M264.92 328.79H267.92M264.92 335.96H267.92M273.70 322.55V330.13M272.20 322.55H275.20M272.20 330.13H275.20M280.98 318.81V327.03M279.48 318.81H282.48M279.48 327.03H282.48" fill="none" stroke="#ff0000" stroke-width="1.1" stroke-dasharray="1,1"/><path d="M55.30 544.91L57.60 547.91L55.30 550.91L53.00 547.91Z" fill="#ff0000"/><path d="M62.58 433.17L64.88 436.17L62.58 439.17L60.28 436.17Z" fill="#ff0000"/><path d="M69.86 388.23L72.16 391.23L69.86 394.23L67.56 391.23Z" fill="#ff0000"/><path d="M77.14 376.79L79.44 379.79L77.14 382.79L74.84 379.79Z" fill="#ff0000"/><path d="M84.42 372.94L86.72 375.94L84.42 378.94L82.12 375.94Z" fill="#ff0000"/><path d="M91.70 372.59L94.00 375.59L91.70 378.59L89.40 375.59Z" fill="#ff0000"/><path d="M98.98 373.97L101.28 376.97L98.98 379.97L96.68 376.97Z" fill="#ff0000"/><path d="M106.26 375.37L108.56 378.37L106.26 381.37L103.96 378.37Z" fill="#ff0000"/><path d="M113.54 378.96L115.84 381.96L113.54 384.96L111.24 381.96Z" fill="#ff0000"/><path d="M120.82 383.47L123.12 386.47L120.82 389.47L118.52 386.47Z" fill="#ff0000"/><path d="M128.10 384.48L130.40 387.48L128.10 390.48L125.80 387.48Z" fill="#ff0000"/><path d="M135.38 386.21L137.68 389.21L135.38 392.21L133.08 389.21Z" fill="#ff0000"/><path d="M142.66 387.58L144.96 390.58L142.66 393.58L140.36 390.58Z" fill="#ff0000"/><path d="M149.94 384.40L152.24 387.40L149.94 390.40L147.64 387.40Z" fill="#ff0000"/><path d="M157.22 379.10L159.52 382.10L157.22 385.10L154.92 382.10Z" fill="#ff0000"/><path d="M164.50 375.08L166.80 378.08L164.50 381.08L162.20 378.08Z" fill="#ff0000"/><path d="M171.78 374.87L174.08 377.87L171.78 380.87L169.48 377.87Z" fill="#ff0000"/><path d="M179.06 372.94L181.36 375.94L179.06 378.94L176.76 375.94Z" fill="#ff0000"/><path d="M186.34 373.07L188.64 376.07L186.34 379.07L184.04 376.07Z" fill="#ff0000"/><path d="M193.62 360.21L195.92 363.21L193.62 366.21L191.32 363.21Z" fill="#ff0000"/><path d="M200.90 353.37L203.20 356.37L200.90 359.37L198.60 356.37Z" fill="#ff0000"/><path d="M208.18 353.37L210.48 356.37L208.18 359.37L205.88 356.37Z" fill="#ff0000"/><path d="M215.46 351.47L217.76 354.47L215.46 357.47L213.16 354.47Z" fill="#ff0000"/><path d="M222.74 344.26L225.04 347.26L222.74 350.26L220.44 347.26Z" fill="#ff0000"/><path d="M230.02 342.55L232.32 345.55L230.02 348.55L227.72 345.55Z" fill="#ff0000"/><path d="M237.30 339.46L239.60 342.46L237.30 345.46L235.00 342.46Z" fill="#ff0000"/><path d="M244.58 335.79L246.88 338.79L244.58 341.79L242.28 338.79Z" fill="#ff0000"/><path d="M251.86 334.45L254.16 337.45L251.86 340.45L249.56 337.45Z" fill="#ff0000"/><path d="M259.14 338.06L261.44 341.06L259.14 344.06L256.84 341.06Z" fill="#ff0000"/><path d="M266.42 329.30L268.72 332.30L266.42 335.30L264.12 332.30Z" fill="#ff0000"/><path d="M273.70 323.26L276.00 326.26L273.70 329.26L271.40 326.26Z" fill="#ff0000"/><path d="M280.98 319.82L283.28 322.82L280.98 325.82L278.68 322.82Z" fill="#ff0000"/><path d="M288.26 310.59L290.56 313.59L288.26 316.59L285.96 313.59Z" fill="#ff0000"/><path d="M295.54 298.04L297.84 301.04L295.54 304.04L293.24 301.04Z" fill="#ff0000"/><path d="M302.82 291.84L305.12 294.84L302.82 297.84L300.52 294.84Z" fill="#ff0000"/><path d="M310.10 274.35L312.40 277.35L310.10 280.35L307.80 277.35Z" fill="#ff0000"/><path d="M317.38 282.78L319.68 285.78L317.38 288.78L315.08 285.78Z" fill="#ff0000"/><path d="M324.66 267.28L326.96 270.28L324.66 273.28L322.36 270.28Z" fill="#ff0000"/><path d="M331.94 268.94L334.24 271.94L331.94 274.94L329.64 271.94Z" fill="#ff0000"/><path d="M339.22 273.46L341.52 276.46L339.22 279.46L336.92 276.46Z" fill="#ff0000"/><path d="M346.50 264.24L348.80 267.24L346.50 270.24L344.20 267.24Z" fill="#ff0000"/><path d="M357.42 250.62L359.72 253.62L357.42 256.62L355.12 253.62Z" fill="#ff0000"/></g>
<rect x="45.5" y="17.5" width="326.0" height="460.0" fill="none" stroke="#000" stroke-width="1.1"/><line x1="45.5" y1="317.5" x2="371.5" y2="317.5" stroke="#000" stroke-width="1.1"/><path d="M48.02 17.50V19.50M48.02 317.50V315.50M48.02 317.50V319.00M48.02 477.50V476.00M55.30 17.50V25.50M55.30 317.50V309.50M55.30 317.50V322.50M55.30 477.50V472.50M62.58 17.50V19.50M62.58 317.50V315.50M62.58 317.50V319.00M62.58 477.50V476.00M69.86 17.50V21.50M69.86 317.50V313.50M69.86 317.50V320.00M69.86 477.50V475.00M77.14 17.50V19.50M77.14 317.50V315.50M77.14 317.50V319.00M77.14 477.50V476.00M84.42 17.50V21.50M84.42 317.50V313.50M84.42 317.50V320.00M84.42 477.50V475.00M91.70 17.50V19.50M91.70 317.50V315.50M91.70 317.50V319.00M91.70 477.50V476.00M98.98 17.50V21.50M98.98 317.50V313.50M98.98 317.50V320.00M98.98 477.50V475.00M106.26 17.50V19.50M106.26 317.50V315.50M106.26 317.50V319.00M106.26 477.50V476.00M113.54 17.50V21.50M113.54 317.50V313.50M113.54 317.50V320.00M113.54 477.50V475.00M120.82 17.50V19.50M120.82 317.50V315.50M120.82 317.50V319.00M120.82 477.50V476.00M128.10 17.50V25.50M128.10 317.50V309.50M128.10 317.50V322.50M128.10 477.50V472.50M135.38 17.50V19.50M135.38 317.50V315.50M135.38 317.50V319.00M135.38 477.50V476.00M142.66 17.50V21.50M142.66 317.50V313.50M142.66 317.50V320.00M142.66 477.50V475.00M149.94 17.50V19.50M149.94 317.50V315.50M149.94 317.50V319.00M149.94 477.50V476.00M157.22 17.50V21.50M157.22 317.50V313.50M157.22 317.50V320.00M157.22 477.50V475.00M164.50 17.50V19.50M164.50 317.50V315.50M164.50 317.50V319.00M164.50 477.50V476.00M171.78 17.50V21.50M171.78 317.50V313.50M171.78 317.50V320.00M171.78 477.50V475.00M179.06 17.50V19.50M179.06 317.50V315.50M179.06 317.50V319.00M179.06 477.50V476.00M186.34 17.50V21.50M186.34 317.50V313.50M186.34 317.50V320.00M186.34 477.50V475.00M193.62 17.50V19.50M193.62 317.50V315.50M193.62 317.50V319.00M193.62 477.50V476.00M200.90 17.50V25.50M200.90 317.50V309.50M200.90 317.50V322.50M200.90 477.50V472.50M208.18 17.50V19.50M208.18 317.50V315.50M208.18 317.50V319.00M208.18 477.50V476.00M215.46 17.50V21.50M215.46 317.50V313.50M215.46 317.50V320.00M215.46 477.50V475.00M222.74 17.50V19.50M222.74 317.50V315.50M222.74 317.50V319.00M222.74 477.50V476.00M230.02 17.50V21.50M230.02 317.50V313.50M230.02 317.50V320.00M230.02 477.50V475.00M237.30 17.50V19.50M237.30 317.50V315.50M237.30 317.50V319.00M237.30 477.50V476.00M244.58 17.50V21.50M244.58 317.50V313.50M244.58 317.50V320.00M244.58 477.50V475.00M251.86 17.50V19.50M251.86 317.50V315.50M251.86 317.50V319.00M251.86 477.50V476.00M259.14 17.50V21.50M259.14 317.50V313.50M259.14 317.50V320.00M259.14 477.50V475.00M266.42 17.50V19.50M266.42 317.50V315.50M266.42 317.50V319.00M266.42 477.50V476.00M273.70 17.50V25.50M273.70 317.50V309.50M273.70 317.50V322.50M273.70 477.50V472.50M280.98 17.50V19.50M280.98 317.50V315.50M280.98 317.50V319.00M280.98 477.50V476.00M288.26 17.50V21.50M288.26 317.50V313.50M288.26 317.50V320.00M288.26 477.50V475.00M295.54 17.50V19.50M295.54 317.50V315.50M295.54 317.50V319.00M295.54 477.50V476.00M302.82 17.50V21.50M302.82 317.50V313.50M302.82 317.50V320.00M302.82 477.50V475.00M310.10 17.50V19.50M310.10 317.50V315.50M310.10 317.50V319.00M310.10 477.50V476.00M317.38 17.50V21.50M317.38 317.50V313.50M317.38 317.50V320.00M317.38 477.50V475.00M324.66 17.50V19.50M324.66 317.50V315.50M324.66 317.50V319.00M324.66 477.50V476.00M331.94 17.50V21.50M331.94 317.50V313.50M331.94 317.50V320.00M331.94 477.50V475.00M339.22 17.50V19.50M339.22 317.50V315.50M339.22 317.50V319.00M339.22 477.50V476.00M346.50 17.50V25.50M346.50 317.50V309.50M346.50 317.50V322.50M346.50 477.50V472.50M353.78 17.50V19.50M353.78 317.50V315.50M353.78 317.50V319.00M353.78 477.50V476.00M361.06 17.50V21.50M361.06 317.50V313.50M361.06 317.50V320.00M361.06 477.50V475.00M45.50 311.50H51.00M371.50 311.50H366.00M45.50 306.50H51.00M371.50 306.50H366.00M45.50 301.50H51.00M371.50 301.50H366.00M45.50 298.50H51.00M371.50 298.50H366.00M45.50 295.50H51.00M371.50 295.50H366.00M45.50 292.50H51.00M371.50 292.50H366.00M45.50 290.50H51.00M371.50 290.50H366.00M45.50 288.50H56.50M371.50 288.50H360.50M45.50 274.50H51.00M371.50 274.50H366.00M45.50 266.50H51.00M371.50 266.50H366.00M45.50 260.50H51.00M371.50 260.50H366.00M45.50 256.50H51.00M371.50 256.50H366.00M45.50 252.50H51.00M371.50 252.50H366.00M45.50 249.50H51.00M371.50 249.50H366.00M45.50 247.50H51.00M371.50 247.50H366.00M45.50 244.50H51.00M371.50 244.50H366.00M45.50 242.50H56.50M371.50 242.50H360.50M45.50 229.50H51.00M371.50 229.50H366.00M45.50 221.50H51.00M371.50 221.50H366.00M45.50 215.50H51.00M371.50 215.50H366.00M45.50 211.50H51.00M371.50 211.50H366.00M45.50 207.50H51.00M371.50 207.50H366.00M45.50 204.50H51.00M371.50 204.50H366.00M45.50 201.50H51.00M371.50 201.50H366.00M45.50 199.50H51.00M371.50 199.50H366.00M45.50 197.50H56.50M371.50 197.50H360.50M45.50 183.50H51.00M371.50 183.50H366.00M45.50 175.50H51.00M371.50 175.50H366.00M45.50 170.50H51.00M371.50 170.50H366.00M45.50 165.50H51.00M371.50 165.50H366.00M45.50 162.50H51.00M371.50 162.50H366.00M45.50 159.50H51.00M371.50 159.50H366.00M45.50 156.50H51.00M371.50 156.50H366.00M45.50 154.50H51.00M371.50 154.50H366.00M45.50 152.50H56.50M371.50 152.50H360.50M45.50 138.50H51.00M371.50 138.50H366.00M45.50 130.50H51.00M371.50 130.50H366.00M45.50 124.50H51.00M371.50 124.50H366.00M45.50 120.50H51.00M371.50 120.50H366.00M45.50 116.50H51.00M371.50 116.50H366.00M45.50 113.50H51.00M371.50 113.50H366.00M45.50 111.50H51.00M371.50 111.50H366.00M45.50 108.50H51.00M371.50 108.50H366.00M45.50 106.50H56.50M371.50 106.50H360.50M45.50 93.50H51.00M371.50 93.50H366.00M45.50 85.50H51.00M371.50 85.50H366.00M45.50 79.50H51.00M371.50 79.50H366.00M45.50 75.50H51.00M371.50 75.50H366.00M45.50 71.50H51.00M371.50 71.50H366.00M45.50 68.50H51.00M371.50 68.50H366.00M45.50 65.50H51.00M371.50 65.50H366.00M45.50 63.50H51.00M371.50 63.50H366.00M45.50 61.50H56.50M371.50 61.50H360.50M45.50 47.50H51.00M371.50 47.50H366.00M45.50 39.50H51.00M371.50 39.50H366.00M45.50 34.50H51.00M371.50 34.50H366.00M45.50 29.50H51.00M371.50 29.50H366.00M45.50 26.50H51.00M371.50 26.50H366.00M45.50 23.50H51.00M371.50 23.50H366.00M45.50 20.50H51.00M371.50 20.50H366.00M45.50 18.50H51.00M371.50 18.50H366.00M45.50 458.50H53.00M371.50 458.50H364.00M45.50 442.50H50.50M371.50 442.50H366.50M45.50 429.50H50.50M371.50 429.50H366.50M45.50 417.50H50.50M371.50 417.50H366.50M45.50 407.50H50.50M371.50 407.50H366.50M45.50 398.50H53.00M371.50 398.50H364.00M45.50 389.50H50.50M371.50 389.50H366.50M45.50 381.50H50.50M371.50 381.50H366.50M45.50 374.50H50.50M371.50 374.50H366.50M45.50 368.50H50.50M371.50 368.50H366.50M45.50 362.50H50.50M371.50 362.50H366.50M45.50 356.50H50.50M371.50 356.50H366.50M45.50 351.50H50.50M371.50 351.50H366.50M45.50 346.50H50.50M371.50 346.50H366.50M45.50 341.50H50.50M371.50 341.50H366.50M45.50 337.50H53.00M371.50 337.50H364.00M45.50 332.50H50.50M371.50 332.50H366.50M45.50 328.50H50.50M371.50 328.50H366.50M45.50 324.50H50.50M371.50 324.50H366.50M45.50 320.50H50.50M371.50 320.50H366.50" stroke="#000" stroke-width="1" fill="none"/>
</svg>
<svg width="393" height="512" style="position:absolute;left:0;top:0" font-family="Liberation Sans, sans-serif"><rect x="73.78" y="221.38" width="5.04" height="5.04" fill="#000"/><line x1="64.3" y1="236.9" x2="88.3" y2="236.9" stroke="#b05a10" stroke-width="1.1" stroke-dasharray="3,2"/><circle cx="76.30" cy="236.90" r="2.90" fill="none" stroke="#b05a10" stroke-width="1.15"/><line x1="64.3" y1="250.0" x2="88.3" y2="250.0" stroke="#3c9a1e" stroke-width="1.1" stroke-dasharray="3,2"/><rect x="73.75" y="247.45" width="5.10" height="5.10" fill="none" stroke="#3c9a1e" stroke-width="1.1"/><line x1="64.3" y1="263.1" x2="88.3" y2="263.1" stroke="#0000ff" stroke-width="1.1"/><path d="M76.30 259.90L79.34 265.50L73.26 265.50Z" fill="#0000ff"/><line x1="64.3" y1="276.0" x2="88.3" y2="276.0" stroke="#ff0000" stroke-width="1.1" stroke-dasharray="1,1"/><path d="M76.30 273.00L78.60 276.00L76.30 279.00L74.00 276.00Z" fill="#ff0000"/><text x="55.7" y="489.0" font-size="11.30" text-anchor="middle" fill="#000">0</text><text x="128.5" y="489.0" font-size="11.30" text-anchor="middle" fill="#000">10</text><text x="201.3" y="489.0" font-size="11.30" text-anchor="middle" fill="#000">20</text><text x="274.1" y="489.0" font-size="11.30" text-anchor="middle" fill="#000">30</text><text x="346.9" y="489.0" font-size="11.30" text-anchor="middle" fill="#000">40</text><text x="39.8" y="65.0" font-size="11.30" text-anchor="end" fill="#000">1</text><text x="32.8" y="111.8" font-size="11.30" text-anchor="end">10</text><text x="32.8" y="107.0" font-size="6.6" text-anchor="start">&#8722;1</text><text x="32.8" y="157.2" font-size="11.30" text-anchor="end">10</text><text x="32.8" y="152.3" font-size="6.6" text-anchor="start">&#8722;2</text><text x="32.8" y="202.6" font-size="11.30" text-anchor="end">10</text><text x="32.8" y="197.7" font-size="6.6" text-anchor="start">&#8722;3</text><text x="32.8" y="247.9" font-size="11.30" text-anchor="end">10</text><text x="32.8" y="243.0" font-size="6.6" text-anchor="start">&#8722;4</text><text x="32.8" y="293.2" font-size="11.30" text-anchor="end">10</text><text x="32.8" y="288.3" font-size="6.6" text-anchor="start">&#8722;5</text><text x="38.3" y="341.3" font-size="11.30" text-anchor="end" fill="#000">2</text><text x="38.3" y="402.6" font-size="11.30" text-anchor="end" fill="#000">1</text><text x="38.3" y="462.0" font-size="11.30" text-anchor="end" fill="#000">0.5</text><text x="373.3" y="341.3" font-size="11.30" text-anchor="start" fill="#000">2</text><text x="373.3" y="402.6" font-size="11.30" text-anchor="start" fill="#000">1</text><text x="373.3" y="462.0" font-size="11.30" text-anchor="start" fill="#000">0.5</text><text x="51.0" y="13.9" font-size="12.00" text-anchor="start" fill="#000">900 GeV pp</text><text x="366.8" y="13.9" font-size="12.10" text-anchor="end" fill="#000">Soft QCD</text><text x="84.3" y="42.6" font-size="11.90" text-anchor="start" fill="#000" letter-spacing="0.05">Charged multiplicity, <tspan dx="1.8">|</tspan><tspan dx="-3.1">&#951;</tspan><tspan dx="-0.2">|</tspan>&lt;1.0 ,</text><text x="241.0" y="42.6" font-size="11.90" text-anchor="start" fill="#000" letter-spacing="0.16">s=0.9 TeV (INEL)</text><path d="M237.2 39.3L238.9 43.2L240.8 33.6H247.2" fill="none" stroke="#000" stroke-width="1.05"/><text x="249.5" y="302.3" font-size="7.80" text-anchor="end" fill="#a0a0a0">(ALICE_2010_I852450)</text><text x="93.8" y="226.4" font-size="9.40" text-anchor="start" fill="#000">ALICE</text><text x="93.8" y="239.4" font-size="9.40" text-anchor="start" fill="#000">Herwig++ 2.7.1 default</text><text x="93.8" y="252.5" font-size="9.40" text-anchor="start" fill="#000">Herwig 7.2.1 default</text><text x="93.8" y="265.6" font-size="9.40" text-anchor="start" fill="#000">Pythia 8.315 default</text><text x="93.8" y="278.5" font-size="9.40" text-anchor="start" fill="#000">Sherpa 1.4.5 default</text><text transform="translate(15.4,58.6) rotate(-90)" font-size="11.9">dN/dN<tspan font-size="7.2" dy="2.2">ch</tspan></text><text transform="translate(18.3,426.2) rotate(-90)" font-size="8.9">Ratio to ALICE</text><text x="354.6" y="502.8" font-size="12">N<tspan font-size="8" dy="4.3">ch</tspan></text><text transform="translate(379.8,127.8) rotate(-90)" font-size="9.36" fill="#808080">Rivet 4.1.0, &#8805; 100k events</text><text transform="translate(380.0,313.8) rotate(-90)" font-size="9.34" fill="#808080">mcplots.cern.ch [arXiv:2401.10621]</text></svg>
</body></html>
